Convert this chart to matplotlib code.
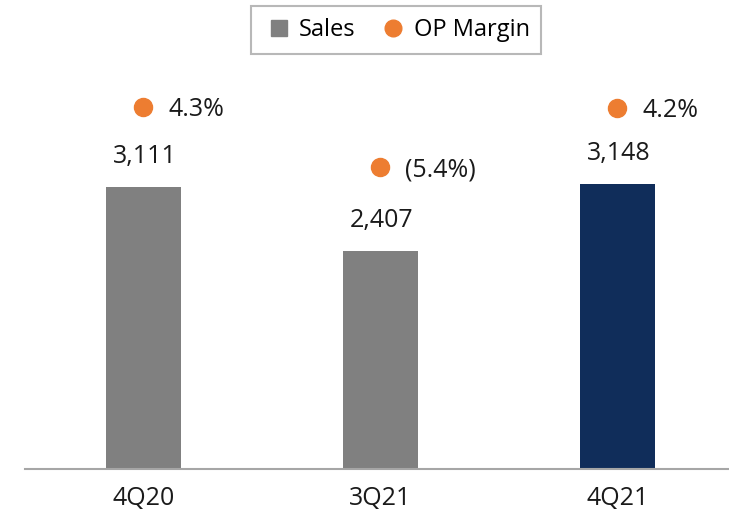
import matplotlib.pyplot as plt
from matplotlib.lines import Line2D

plt.rcParams['font.family'] = ['Open Sans', 'DejaVu Sans']

# data
quarters = ["4Q20", "3Q21", "4Q21"]
sales = [3111, 2407, 3148]
op_margin = [4.3, -5.4, 4.2]

bar_colors = ["#808080", "#808080", "#102D5A"]
orange = "#ED7D31"

fig = plt.figure(figsize=(7.29, 5.24), dpi=100)
# axes spans slightly past the right edge, like the reference crop
ax = fig.add_axes([25 / 729, 55 / 524, 711 / 729, 408 / 524])
x = list(range(len(quarters)))

ax.bar(x, sales, width=0.315, color=bar_colors, zorder=2)
ax.set_xlim(-0.5, 2.5)
ax.set_ylim(0, 4500)
ax.set_xticks(x)
ax.set_xticklabels(quarters, fontsize=18, color="#1a1a1a")
ax.tick_params(axis="x", length=0, pad=12)
ax.set_yticks([])
for s in ["top", "right", "left"]:
    ax.spines[s].set_visible(False)
ax.spines["bottom"].set_color("#a6a6a6")
ax.spines["bottom"].set_linewidth(1.5)

for xi, v in zip(x, sales):
    ax.annotate(f"{v:,}", (xi, v), xytext=(1, 22), textcoords="offset points",
                ha="center", va="center", fontsize=18, color="#1a1a1a")

# OP margin on secondary axis
ax2 = ax.twinx()
ax2.set_ylim(-54.2, 11.73)
ax2.set_axis_off()
ax2.plot(x, op_margin, linestyle="none", marker="o", markersize=13,
         color=orange, zorder=3)
for xi, m in zip(x, op_margin):
    lbl = f"{m:.1f}%" if m >= 0 else f"({abs(m):.1f}%)"
    ax2.annotate(lbl, (xi, m), xytext=(18, -2), textcoords="offset points",
                 ha="left", va="center", fontsize=18, color="#1a1a1a")

handles = [
    Line2D([], [], linestyle="none", marker="s", markersize=11, color="#808080"),
    Line2D([], [], linestyle="none", marker="o", markersize=12, color=orange),
]
leg = fig.legend(handles, ["Sales", "OP Margin"], loc="center",
                 bbox_to_anchor=(396 / 729, 1 - 30 / 524), ncol=2,
                 fontsize=17, frameon=True, fancybox=False,
                 handlelength=1.4, handletextpad=0.15, columnspacing=0.9,
                 borderpad=0.5)
leg.get_frame().set_edgecolor("#a6a6a6")
leg.get_frame().set_linewidth(1.5)

fig.savefig("out.png", dpi=100)
